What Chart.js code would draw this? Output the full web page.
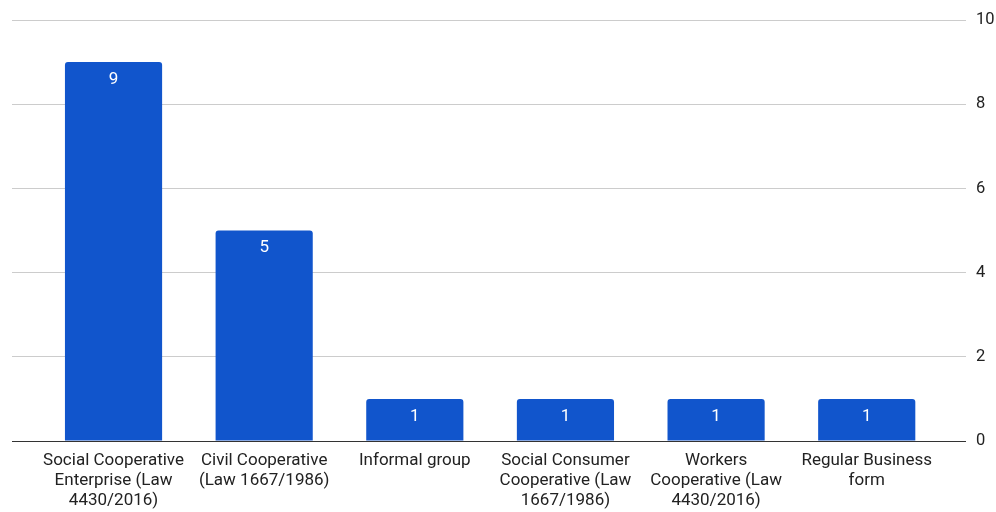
<!DOCTYPE html>
<html>
<head>
<meta charset="utf-8">
<script src="https://cdn.jsdelivr.net/npm/chart.js@4"></script>
<style>
  body { margin: 0; background: #fff; }
</style>
</head>
<body>
<canvas id="orgChart" width="996" height="512"></canvas>
<script>
const labels = [
  ["Social Cooperative", "Enterprise (Law", "4430/2016)"],
  ["Civil Cooperative", "(Law 1667/1986)"],
  ["Informal group"],
  ["Social Consumer", "Cooperative (Law", "1667/1986)"],
  ["Workers", "Cooperative (Law", "4430/2016)"],
  ["Regular Business", "form"]
];
const counts = [9, 5, 1, 1, 1, 1];
const yTicks = [0, 2, 4, 6, 8, 10];

const FONT = "Roboto, 'Noto Sans', sans-serif";

// white count written just under the top of each bar
const barValues = {
  id: "barValues",
  afterDatasetsDraw(chart) {
    const ctx = chart.ctx;
    const meta = chart.getDatasetMeta(0);
    ctx.save();
    ctx.fillStyle = "#ffffff";
    ctx.font = "17px " + FONT;
    ctx.textAlign = "center";
    ctx.textBaseline = "middle";
    meta.data.forEach((bar, i) => {
      ctx.fillText(String(counts[i]), bar.x, bar.y + 17.5);
    });
    ctx.restore();
  }
};

const ctx = document.getElementById("orgChart").getContext("2d");
new Chart(ctx, {
  type: "bar",
  data: {
    datasets: [
      {
        label: "Count",
        data: counts.map((v, i) => ({ x: i, y: v })),
        backgroundColor: "#1155cc",
        borderRadius: { topLeft: 3, topRight: 3 },
        borderSkipped: "bottom",
        barPercentage: 0.645,
        categoryPercentage: 1
      }
    ]
  },
  options: {
    responsive: false,
    animation: false,
    layout: { padding: { left: 12, top: 20, right: 0, bottom: 0 } },
    plugins: {
      legend: { display: false },
      tooltip: { enabled: false }
    },
    scales: {
      x: {
        type: "linear",
        offset: false,
        min: -0.674,
        max: 5.659,
        afterFit: axis => { axis.height = 71; },
        grid: { display: false, drawTicks: false },
        border: { display: false },
        ticks: {
          stepSize: 1,
          includeBounds: false,
          autoSkip: false,
          maxRotation: 0,
          minRotation: 0,
          padding: 10,
          color: "#222",
          font: { family: FONT, size: 17, lineHeight: 1.18 },
          callback: v => labels[v] || ""
        }
      },
      y: {
        position: "right",
        min: 0,
        max: 10,
        afterFit: axis => { axis.width = 30; },
        afterBuildTicks: axis => {
          axis.ticks = yTicks.map(v => ({ value: v }));
        },
        grid: {
          drawTicks: false,
          color: c => (c.tick && c.tick.value === 0 ? "#333333" : "#cccccc")
        },
        border: { display: false },
        ticks: {
          padding: 10,
          color: "#222",
          font: { family: FONT, size: 16.5 }
        }
      }
    }
  },
  plugins: [barValues]
});
</script>
</body>
</html>
